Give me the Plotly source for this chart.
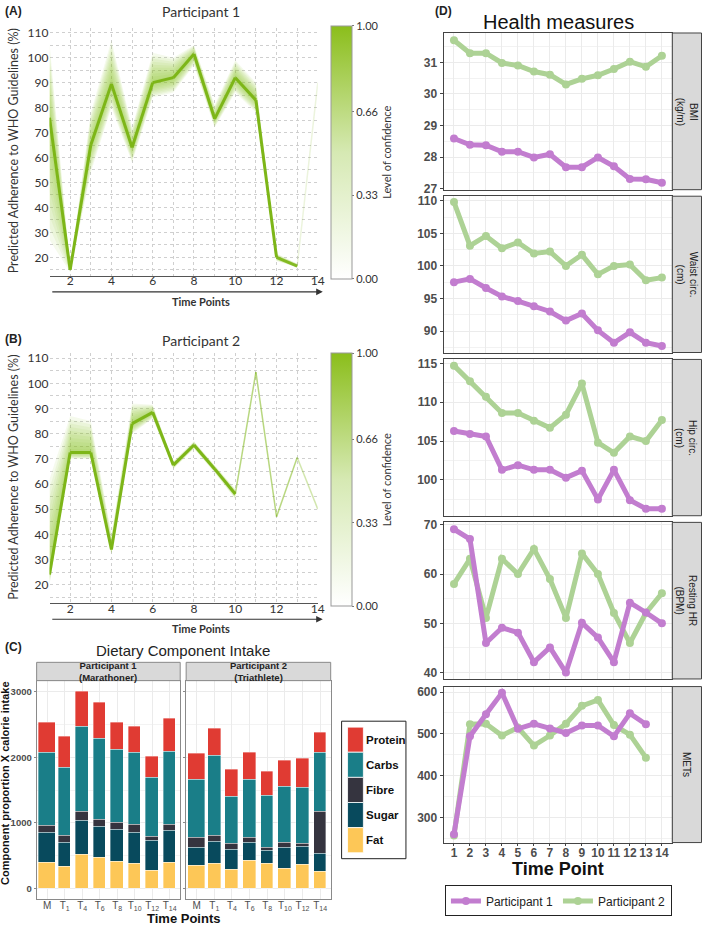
import plotly.graph_objects as go

W, H = 709, 929
def px(x): return x / W
def py(y): return 1 - y / H

# ---------------- Panels A / B : predicted adherence ----------------
time_points = list(range(1, 15))
p1_adherence = [76, 15, 65, 89.5, 64, 90, 92, 101.5, 75.5, 92, 83, 20, 16.5, 90]
p1_upper = [106, 16, 78, 107, 72, 102, 100, 105, 81, 99, 90, 21.5, 17.5, None]
p1_lower = [27, 14, 54, 80, 58, 84, 86, 97, 72, 86, 78, 18.5, 16, None]
p1_seg_conf = [1, 1, 1, 1, 1, 1, 1, 1, 1, 1, 1, 0.9, 0.15]

p2_adherence = [24, 72.5, 72.5, 34, 84, 88.5, 67.5, 75.5, 66, 56, 104.5, 47, 70.5, 50]
p2_upper = [62, 87, 85, 40, 92, 91.5, 69, 77, 67.5, 58, None, None, None, None]
p2_lower = [20, 70, 70, 32, 80, 86, 66, 74, 64.5, 54, None, None, None, None]
p2_seg_conf = [1, 1, 1, 1, 1, 1, 1, 1, 1, 0.55, 0.55, 0.55, 0.35]

conf_ticks = [0, 0.33, 0.66, 1.0]
conf_labels = ["0.00", "0.33", "0.66", "1.00"]

# ---------------- Panel C : dietary components ----------------
diet_categories = ["M", "T1", "T4", "T6", "T8", "T10", "T12", "T14"]
diet_labels = ["M", "T<sub>1</sub>", "T<sub>4</sub>", "T<sub>6</sub>", "T<sub>8</sub>",
               "T<sub>10</sub>", "T<sub>12</sub>", "T<sub>14</sub>"]
components = ["Fat", "Sugar", "Fibre", "Carbs", "Protein"]
legend_order = ["Protein", "Carbs", "Fibre", "Sugar", "Fat"]
comp_colors = {"Protein": "#E03B33", "Carbs": "#1A7E88", "Fibre": "#35343F",
               "Sugar": "#084A5D", "Fat": "#FDC757"}
p1_fat = [397, 337, 526, 471, 417, 387, 268, 397]
p1_sugar = [461, 357, 516, 471, 486, 471, 466, 481]
p1_fibre = [109, 109, 124, 105, 99, 114, 60, 94]
p1_carbs = [1106, 1032, 1294, 1230, 1106, 1096, 897, 1116]
p1_protein = [457, 471, 541, 550, 412, 397, 313, 501]
p2_fat = [352, 387, 293, 422, 377, 312, 372, 258]
p2_sugar = [278, 327, 302, 282, 198, 313, 273, 278]
p2_fibre = [144, 89, 89, 70, 50, 74, 39, 640]
p2_carbs = [883, 1216, 720, 878, 789, 853, 854, 897]
p2_protein = [396, 411, 411, 421, 367, 392, 446, 298]
bar_widths = [0.97, 0.72, 0.72, 0.72, 0.72, 0.72, 0.72, 0.72]

# ---------------- Panel D : health measures ----------------
measures = ["BMI<br>(kg/m)", "Waist circ.<br>(cm)", "Hip circ.<br>(cm)", "Resting HR<br>(BPM)", "METs"]
bmi_p1 = [28.59, 28.39, 28.38, 28.17, 28.17, 27.99, 28.09, 27.68, 27.68, 27.99, 27.71, 27.31, 27.30, 27.19]
bmi_p2 = [31.70, 31.29, 31.29, 30.98, 30.90, 30.71, 30.61, 30.30, 30.48, 30.59, 30.79, 31.02, 30.86, 31.21]
waist_p1 = [97.5, 98.0, 96.6, 95.3, 94.6, 93.8, 93.0, 91.6, 92.7, 90.1, 88.2, 89.8, 88.2, 87.7]
waist_p2 = [109.8, 103.1, 104.6, 102.7, 103.6, 101.9, 102.2, 100.0, 101.7, 98.7, 100.0, 100.2, 97.8, 98.2]
hip_p1 = [106.3, 105.9, 105.6, 101.3, 101.9, 101.3, 101.3, 100.3, 101.2, 97.5, 101.3, 97.4, 96.3, 96.3]
hip_p2 = [114.7, 112.7, 110.7, 108.6, 108.6, 107.6, 106.7, 108.4, 112.4, 104.8, 103.5, 105.6, 105.0, 107.7]
hr_p1 = [69.1, 67.1, 46.0, 49.1, 48.1, 42.1, 45.1, 40.0, 50.1, 47.1, 42.1, 54.2, 52.2, 50.0]
hr_p2 = [58.0, 63.1, 51.1, 63.1, 60.0, 65.1, 59.0, 51.1, 64.2, 60.0, 52.1, 46.0, 52.1, 56.1]
mets_p1 = [260, 494, 547, 598, 512, 524, 513, 502, 520, 520, 494, 549, 523, None]
mets_p2 = [257, 523, 524, 496, 515, 472, 496, 524, 567, 581, 521, 498, 443, None]

PURPLE = "#C27DCF"
LGREEN = "#ADD295"
GREEN_RGB = "141,194,31"
N_LAYERS = 10

fig = go.Figure()

# ---- bands for A/B ----
def add_band(center, upper, lower, seg_conf, xa, ya, cax):
    idx = [i for i in range(len(center)) if upper[i] is not None]
    xs = [time_points[i] for i in idx]
    for k in range(N_LAYERS, 0, -1):
        f = k / N_LAYERS
        up = [center[i] + f * (upper[i] - center[i]) for i in idx]
        lo = [center[i] - f * (center[i] - lower[i]) for i in idx]
        fig.add_trace(go.Scatter(x=xs + xs[::-1], y=up + lo[::-1], fill="toself",
                                 fillcolor=f"rgba({GREEN_RGB},0.085)", line=dict(width=0),
                                 mode="lines", hoverinfo="skip", showlegend=False,
                                 xaxis=xa, yaxis=ya))
    for i, a in enumerate(seg_conf):
        fig.add_trace(go.Scatter(x=time_points[i:i + 2], y=center[i:i + 2], mode="lines",
                                 line=dict(color=f"rgba(125,182,24,{a})",
                                           width=3 if a > 0.8 else 1.5),
                                 hoverinfo="skip", showlegend=False, xaxis=xa, yaxis=ya))
    fig.add_trace(go.Scatter(x=[7, 7], y=[50, 50], mode="markers",
                             marker=dict(size=1, opacity=0, color=[0, 1], coloraxis=cax),
                             hoverinfo="skip", showlegend=False, xaxis=xa, yaxis=ya))

add_band(p1_adherence, p1_upper, p1_lower, p1_seg_conf, "x", "y", "coloraxis")
add_band(p2_adherence, p2_upper, p2_lower, p2_seg_conf, "x2", "y2", "coloraxis2")

# ---- Panel C bars ----
p1_diet = {"Fat": p1_fat, "Sugar": p1_sugar, "Fibre": p1_fibre, "Carbs": p1_carbs, "Protein": p1_protein}
p2_diet = {"Fat": p2_fat, "Sugar": p2_sugar, "Fibre": p2_fibre, "Carbs": p2_carbs, "Protein": p2_protein}
for comp in components:
    for diet, xa, ya in [(p1_diet, "x3", "y3"), (p2_diet, "x4", "y4")]:
        fig.add_trace(go.Bar(x=diet_categories, y=diet[comp], width=bar_widths,
                             marker=dict(color=comp_colors[comp],
                                         line=dict(color="rgba(255,255,255,0.6)", width=0.6)),
                             name=comp, showlegend=False, xaxis=xa, yaxis=ya))

# ---- Panel D lines ----
d_series = [(bmi_p1, bmi_p2), (waist_p1, waist_p2), (hip_p1, hip_p2), (hr_p1, hr_p2), (mets_p1, mets_p2)]
for k, (s1, s2) in enumerate(d_series):
    xa, ya = f"x{5 + k}", f"y{5 + k}"
    fig.add_trace(go.Scatter(x=time_points, y=s2, mode="lines+markers", name="Participant 2",
                             line=dict(color=LGREEN, width=5), marker=dict(size=8, color=LGREEN),
                             showlegend=(k == 0), legend="legend2", legendrank=2, xaxis=xa, yaxis=ya))
    fig.add_trace(go.Scatter(x=time_points, y=s1, mode="lines+markers", name="Participant 1",
                             line=dict(color=PURPLE, width=5), marker=dict(size=8, color=PURPLE),
                             showlegend=(k == 0), legend="legend2", legendrank=1, xaxis=xa, yaxis=ya))

LAT = "Lato"
ARI = "Liberation Sans"

def ab_axes(ydom):
    xa = dict(domain=[px(50), px(321)], range=[1, 14], tickvals=list(range(2, 15, 2)),
              showgrid=False, zeroline=False, showline=True, linecolor="#555", linewidth=1,
              ticks="", tickangle=0, ticklabelstandoff=-6,
              tickfont=dict(family=LAT, size=12, color="#333"),
              minor=dict(dtick=1, tick0=1, showgrid=True, gridcolor="#CFCFCF", griddash="dot", gridwidth=1))
    ya = dict(domain=ydom, range=[12.5, 112], tickvals=list(range(20, 111, 10)),
              showgrid=True, gridcolor="#CFCFCF", griddash="dot", zeroline=False, showline=False,
              ticks="", tickfont=dict(family=LAT, size=12, color="#333"),
              minor=dict(dtick=5, tick0=0, showgrid=True, gridcolor="#CFCFCF", griddash="dot"))
    return xa, ya

xa1, ya1 = ab_axes([py(275), py(24)])
xa2, ya2 = ab_axes([py(606), py(353)])
xa2["anchor"] = "y2"; ya2["anchor"] = "x2"

def cbar(ytop):
    return dict(colorscale=[[0, "#FFFFFF"], [0.5, "#D6E9B3"], [1, "#8BBE1B"]], cmin=0, cmax=1,
                colorbar=dict(x=px(334), xanchor="left", y=py(ytop), yanchor="top",
                              lenmode="pixels", len=253, thickness=21, xpad=0, ypad=0,
                              outlinecolor="#999", outlinewidth=1,
                              tickvals=conf_ticks, ticktext=conf_labels, ticks="outside", ticklen=2,
                              tickcolor="#777", tickfont=dict(family=LAT, size=11, color="#333"),
                              title=dict(text="Level of confidence", side="right",
                                         font=dict(family=LAT, size=11, color="#333"))))

c_x_common = dict(type="category", range=[-0.6, 7.6], tickvals=diet_categories, ticktext=diet_labels,
                  showgrid=True, gridcolor="#EBEBEB", zeroline=False, showline=True, mirror=True,
                  linecolor="#8A8A8A", linewidth=1, ticks="", tickangle=0, ticklabelstandoff=-3,
                  tickfont=dict(family=ARI, size=10, color="#4D4D4D"))
c_y_common = dict(range=[-160, 3164], tickvals=[0, 1000, 2000, 3000], showgrid=True, gridcolor="#EBEBEB",
                  zeroline=False, showline=True, mirror=True, linecolor="#8A8A8A", linewidth=1,
                  ticks="outside", ticklen=2, tickcolor="#8A8A8A",
                  tickfont=dict(family=ARI, size=9.5, color="#4D4D4D", weight="bold"),
                  minor=dict(dtick=500, tick0=0, showgrid=True, gridcolor="#F3F3F3"),
                  domain=[py(905), py(684)])

layout = dict(
    width=W, height=H, margin=dict(l=0, r=0, t=0, b=0), paper_bgcolor="white", plot_bgcolor="white",
    barmode="stack", bargap=0,
    xaxis=xa1, yaxis=ya1, xaxis2=xa2, yaxis2=ya2,
    coloraxis=cbar(22), coloraxis2=cbar(353),
    xaxis3=dict(c_x_common, domain=[px(37), px(182)], anchor="y3"),
    yaxis3=dict(c_y_common, anchor="x3"),
    xaxis4=dict(c_x_common, domain=[px(188), px(334)], anchor="y4"),
    yaxis4=dict(c_y_common, anchor="x4", matches="y3", showticklabels=False),
    legend2=dict(orientation="h", x=px(564), y=py(891), xanchor="center", yanchor="top",
                 bordercolor="#222", borderwidth=1, font=dict(family=ARI, size=12, color="#222"),
                 itemwidth=30, bgcolor="white", traceorder="normal"),
)

d_tops = [29.3, 194.3, 359.3, 524, 690]
d_bots = [187.7, 352.3, 517.3, 682.3, 847.7]
d_ranges = [[26.97, 31.93], [86.7, 110.7], [95.4, 115.5], [38.7, 70.5], [240, 613]]
d_ticks = [[27, 28, 29, 30, 31], [90, 95, 100, 105, 110], [100, 105, 110, 115], [40, 50, 60, 70], [300, 400, 500, 600]]
d_minor = [0.5, 2.5, 2.5, 5, 50]
for k in range(5):
    n = 5 + k
    layout[f"xaxis{n}"] = dict(domain=[px(448), px(679)], range=[0.35, 14.65], tickvals=time_points,
                               anchor=f"y{n}", showgrid=True, gridcolor="#EBEBEB", zeroline=False,
                               showline=True, mirror=True, linecolor="#444", linewidth=1,
                               showticklabels=(k == 4), ticks="outside" if k == 4 else "", ticklen=2,
                               tickcolor="#444", tickangle=0, ticklabelstandoff=-3,
                               tickfont=dict(family=ARI, size=12, color="#4D4D4D", weight="bold"))
    layout[f"yaxis{n}"] = dict(domain=[py(d_bots[k]), py(d_tops[k])], range=d_ranges[k], tickvals=d_ticks[k],
                               anchor=f"x{n}", showgrid=True, gridcolor="#EBEBEB", zeroline=False,
                               showline=True, mirror=True, linecolor="#444", linewidth=1,
                               ticks="outside", ticklen=3, tickcolor="#444",
                               tickfont=dict(family=ARI, size=12, color="#4D4D4D", weight="bold"),
                               minor=dict(dtick=d_minor[k], tick0=0, showgrid=True, gridcolor="#F2F2F2"))

fig.update_layout(**layout)

ann = []
def A(text, x, y, size, family=ARI, color="#222", angle=0, xanchor="center", yanchor="middle", bold=False):
    ann.append(dict(text=f"<b>{text}</b>" if bold else text, x=px(x), y=py(y), xref="paper", yref="paper",
                    showarrow=False, textangle=angle, xanchor=xanchor, yanchor=yanchor,
                    font=dict(family=family, size=size, color=color)))

A("(A)", 3, 7, 12, bold=True, xanchor="left")
A("Participant 1", 203, 8, 14, family=LAT, color="#333")
A("(B)", 3, 339, 12, bold=True, xanchor="left")
A("Participant 2", 203, 340, 14, family=LAT, color="#333")
A("(C)", 3, 650, 12, bold=True, xanchor="left")
A("Dietary Component Intake", 185, 654, 15, color="#222")
A("(D)", 437, 7, 12, bold=True, xanchor="left")
A("Health measures", 564, 18, 20, color="#111")

A("Predicted Adherence to WHO Guidelines (%)", 14, 148, 12.5, family=LAT, color="#333", angle=-90)
A("Predicted Adherence to WHO Guidelines (%)", 14, 478, 12.5, family=LAT, color="#333", angle=-90)
A("Time Points", 203, 301, 11, family=LAT, color="#333", bold=True)
A("Time Points", 203, 631, 11, family=LAT, color="#333", bold=True)
for yy in (291, 622):
    ann.append(dict(text="", x=px(326), y=py(yy), xref="paper", yref="paper", showarrow=True,
                    ax=-272, ay=0, arrowhead=2, arrowsize=1.2, arrowwidth=1.1, arrowcolor="#333"))

A("Component proportion X calorie intake", 4.5, 787, 11, color="#111", angle=-90, bold=True)
A("Time Points", 185, 924.5, 13, color="#111", bold=True)

A("Time Point", 564, 874, 18, color="#111", bold=True)

shapes = []
for (x0, x1, t) in [(37, 182, "Participant 1<br>(Marathoner)"), (188, 334, "Participant 2<br>(Triathlete)")]:
    shapes.append(dict(type="rect", xref="paper", yref="paper", x0=px(x0), x1=px(x1), y0=py(684), y1=py(665.5),
                       fillcolor="#D9D9D9", line=dict(color="#8A8A8A", width=1)))
    A(t, (x0 + x1) / 2, 675, 9.5, color="#222", bold=True)

# panel C key (drawn box with colour blocks)
shapes.append(dict(type="rect", xref="paper", yref="paper", x0=px(345), x1=px(410), y0=py(864), y1=py(725),
                   fillcolor="white", line=dict(color="#222", width=1)))
key_top, key_h = 731, 25.4
for i, comp in enumerate(legend_order):
    y0 = key_top + i * key_h
    shapes.append(dict(type="rect", xref="paper", yref="paper", x0=px(351), x1=px(367),
                       y0=py(y0 + key_h), y1=py(y0), fillcolor=comp_colors[comp],
                       line=dict(color="white", width=0.8)))
    A(comp, 368, y0 + key_h / 2, 11.5, color="#111", bold=True, xanchor="left")

for k in range(5):
    shapes.append(dict(type="rect", xref="paper", yref="paper", x0=px(679), x1=px(708.5),
                       y0=py(d_bots[k]), y1=py(d_tops[k]), fillcolor="#D9D9D9",
                       line=dict(color="#444", width=1)))
    A(measures[k], 693.5, (d_tops[k] + d_bots[k]) / 2, 10, color="#222", angle=90)

fig.update_layout(annotations=ann, shapes=shapes)
fig.write_html("out.html", config={"displayModeBar": False},
               post_script="document.body.style.margin='0px';")
